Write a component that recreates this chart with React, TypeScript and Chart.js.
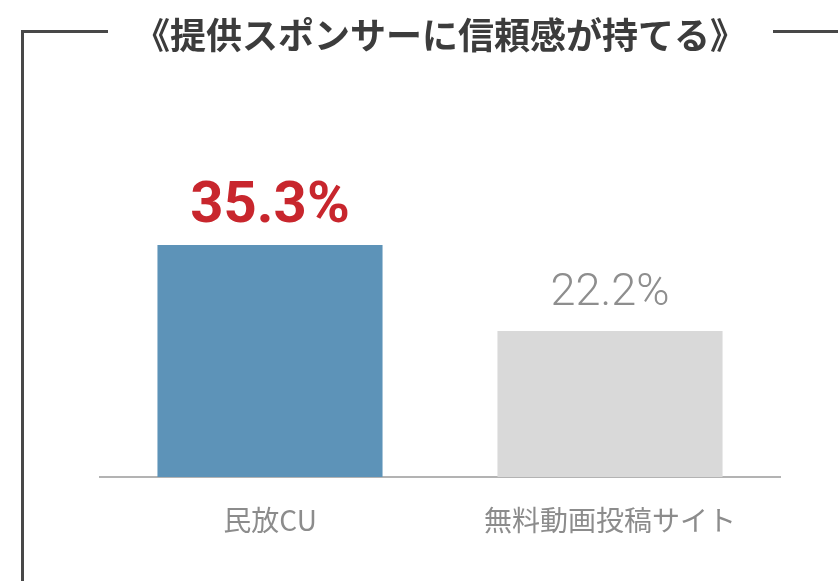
import React, { useEffect, useRef } from "react";
import { Chart, registerables } from "chart.js";

Chart.register(...registerables);

const titleText = "《提供スポンサーに信頼感が持てる》";
const categories = ["民放CU", "無料動画投稿サイト"];
const values = [35.3, 22.2];
const valueLabels = ["35.3%", "22.2%"];

const barColors = ["#5d93b8", "#d9d9d9"];
const labelColors = ["#c8262d", "#8e8e8e"];
const labelFonts = [
  "bold 58px Roboto, sans-serif",
  "300 45px Roboto, sans-serif",
];
const labelOffsets = [23, 26];

const framePlugin = {
  id: "frame",
  beforeDraw(chart: any) {
    const ctx = chart.ctx;
    ctx.save();
    ctx.strokeStyle = "#484848";
    ctx.lineWidth = 3;
    ctx.beginPath();
    ctx.moveTo(22.5, 581);
    ctx.lineTo(22.5, 31.5);
    ctx.lineTo(108, 31.5);
    ctx.moveTo(773, 31.5);
    ctx.lineTo(838, 31.5);
    ctx.stroke();
    ctx.restore();
  },
};

const valueLabelPlugin = {
  id: "valueLabels",
  afterDatasetsDraw(chart: any) {
    const ctx = chart.ctx;
    const meta = chart.getDatasetMeta(0);
    ctx.save();
    ctx.textAlign = "center";
    ctx.textBaseline = "alphabetic";
    meta.data.forEach((bar: any, i: number) => {
      ctx.font = labelFonts[i];
      ctx.fillStyle = labelColors[i];
      ctx.fillText(valueLabels[i], bar.x, bar.y - labelOffsets[i]);
    });
    ctx.restore();
  },
};

export default function App() {
  const ref = useRef<HTMLCanvasElement | null>(null);
  useEffect(() => {
    if (!ref.current) return;
    const chart = new Chart(ref.current, {
      type: "bar",
      data: {
        labels: categories,
        datasets: [
          {
            data: values,
            backgroundColor: barColors,
            barPercentage: 0.662,
            categoryPercentage: 1,
          },
        ],
      },
      options: {
        responsive: false,
        animation: false,
        devicePixelRatio: 1,
        layout: { padding: { left: 100, right: 58, top: 0, bottom: 0 } },
        plugins: {
          legend: { display: false },
          tooltip: { enabled: false },
          title: {
            display: true,
            text: titleText,
            color: "#3c3c3c",
            font: { family: "'Noto Sans CJK JP', sans-serif", size: 36, weight: "bold", lineHeight: 1.2 },
            padding: { top: 14, bottom: 91.2 },
          },
        },
        scales: {
          x: {
            grid: { display: false, drawTicks: false },
            border: { display: true, color: "#b3b3b3", width: 2 },
            ticks: {
              color: "#8c8c8c",
              padding: 27,
              font: { family: "'Noto Sans CJK JP', sans-serif", size: 28 },
            },
            afterFit(scale: any) {
              scale.height = 104;
            },
          },
          y: {
            display: false,
            min: 0,
            max: 50,
          },
        },
      },
      plugins: [framePlugin, valueLabelPlugin],
    });
    return () => chart.destroy();
  }, []);
  return (
    <div style={{ position: "fixed", left: 0, top: 0, width: 838, height: 581, background: "#fff" }}>
      <canvas ref={ref} width={838} height={581} />
    </div>
  );
}
